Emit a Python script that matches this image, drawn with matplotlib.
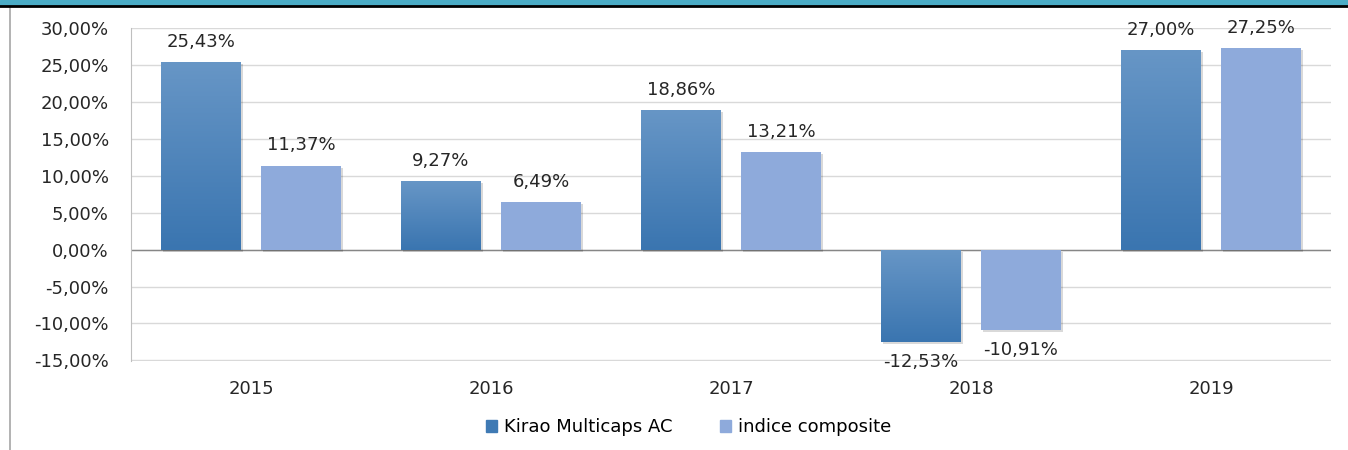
import numpy as np
import matplotlib
matplotlib.use("Agg")
from matplotlib import pyplot as plt
from matplotlib import patheffects as pe
from matplotlib.colors import LinearSegmentedColormap
from matplotlib.ticker import FuncFormatter

years = ["2015", "2016", "2017", "2018", "2019"]
kirao = [25.43, 9.27, 18.86, -12.53, 27.00]
indice = [11.37, 6.49, 13.21, -10.91, 27.25]
series_names = ["Kirao Multicaps AC", "indice composite"]

plt.rcParams['font.family'] = ['DejaVu Sans']
fs = 13

dark = "#4A84BE"
light = "#8EAADB"
grad = LinearSegmentedColormap.from_list("g", ["#3A75B0", "#6796C6"])

fig = plt.figure(figsize=(13.48, 4.5), dpi=100)
ax = fig.add_axes([0.0972, 0.1978, 0.8902, 0.74])

x = np.arange(len(years))
w = 1 / 3
off = 50 / 240
shadow = [pe.SimplePatchShadow(offset=(1.5, -1.5), shadow_rgbFace="#000000", alpha=0.15), pe.Normal()]

b1 = ax.bar(x - off, kirao, w, color=dark, zorder=3, path_effects=shadow)
b2 = ax.bar(x + off, indice, w, color=light, zorder=3, path_effects=shadow)

# gradient fill on the dark bars
g = np.linspace(0, 1, 256).reshape(-1, 1)
for r in b1:
    x0, y0 = r.get_x(), r.get_y()
    x1, y1 = x0 + r.get_width(), y0 + r.get_height()
    lo, hi = min(y0, y1), max(y0, y1)
    im = ax.imshow(g, cmap=grad, aspect="auto", extent=[x0, x1, lo, hi],
                   origin="lower", zorder=4)
    im.set_clip_path(r)

def pct(v):
    return f"{v:.2f}%".replace(".", ",")

for bars, vals in [(b1, kirao), (b2, indice)]:
    for r, v in zip(bars, vals):
        cx = r.get_x() + r.get_width() / 2
        if v >= 0:
            ax.annotate(pct(v), (cx, v), xytext=(0, 8), textcoords="offset points",
                        ha="center", va="bottom", fontsize=fs, color="#262626", zorder=5)
        else:
            ax.annotate(pct(v), (cx, v), xytext=(0, -8), textcoords="offset points",
                        ha="center", va="top", fontsize=fs, color="#262626", zorder=5)

ax.set_xlim(-0.5, 4.5)
ax.set_ylim(-15.08, 30)
ax.set_yticks(np.arange(-15, 31, 5))
ax.yaxis.set_major_formatter(FuncFormatter(lambda v, p: pct(v)))
ax.set_xticks(x)
ax.set_xticklabels(years)
ax.tick_params(axis="both", length=0, labelsize=fs, labelcolor="#262626")
ax.tick_params(axis="x", pad=14)
ax.tick_params(axis="y", pad=16)

ax.grid(axis="y", color="#D9D9D9", linewidth=1, zorder=0)
ax.axhline(0, color="#868686", linewidth=1, zorder=2)
for s in ["top", "right", "bottom"]:
    ax.spines[s].set_visible(False)
ax.spines["left"].set_color("#BFBFBF")

leg = fig.legend([plt.Rectangle((0, 0), 1, 1, color="#3F7AB4"),
                  plt.Rectangle((0, 0), 1, 1, color=light)],
                 series_names, loc="center", bbox_to_anchor=(0.511, 0.05),
                 ncol=2, frameon=False, fontsize=fs, handlelength=0.6, handleheight=0.6,
                 handletextpad=0.4, columnspacing=2.6)

# frame decorations
fig.add_artist(plt.Rectangle((0, 1 - 5 / 450), 1, 5 / 450, transform=fig.transFigure,
                             color="#4BACC6", zorder=10))
fig.add_artist(plt.Line2D([0, 1], [1 - 6 / 450, 1 - 6 / 450], transform=fig.transFigure,
                          color="black", linewidth=2, zorder=11))
fig.add_artist(plt.Line2D([10 / 1348, 10 / 1348], [0, 1 - 7 / 450], transform=fig.transFigure,
                          color="#A6A6A6", linewidth=1.2))

fig.savefig("out.png", dpi=100)
